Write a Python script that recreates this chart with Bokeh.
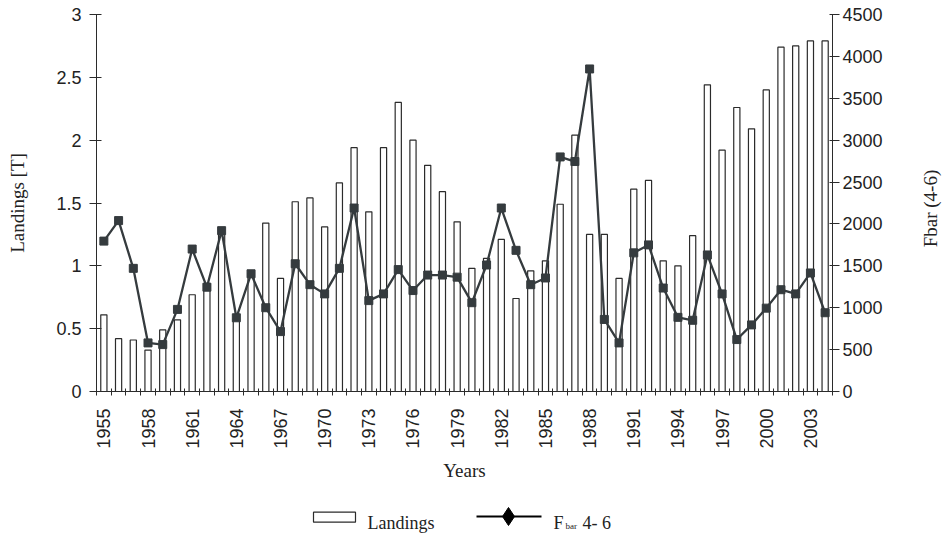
import math
from bokeh.plotting import figure
from bokeh.models import Range1d, LinearAxis, FixedTicker, CustomJSTickFormatter, ColumnDataSource
from bokeh.layouts import column, row
from bokeh.core.properties import value
from bokeh.embed import file_html
from bokeh.resources import INLINE

years = list(range(1955, 2005))
landings = [0.61, 0.42, 0.41, 0.33, 0.49, 0.57, 0.77, 0.86, 1.25, 0.58,
            0.94, 1.34, 0.90, 1.51, 1.54, 1.31, 1.66, 1.94, 1.43, 1.94,
            2.30, 2.00, 1.80, 1.59, 1.35, 0.98, 1.06, 1.21, 0.74, 0.96,
            1.04, 1.49, 2.04, 1.25, 1.25, 0.90, 1.61, 1.68, 1.04, 1.00,
            1.24, 2.44, 1.92, 2.26, 2.09, 2.40, 2.74, 2.75, 2.79, 2.79]
fbar = [1795, 2040, 1470, 580, 560, 980, 1700, 1245, 1920, 880,
        1405, 1000, 715, 1525, 1275, 1165, 1470, 2190, 1085, 1165,
        1455, 1205, 1390, 1390, 1365, 1060, 1510, 2190, 1685, 1275,
        1355, 2800, 2745, 3850, 860, 580, 1655, 1750, 1235, 885,
        850, 1630, 1165, 620, 795, 995, 1215, 1165, 1415, 940]
left_ticks = [0, 0.5, 1, 1.5, 2, 2.5, 3]
right_ticks = [0, 500, 1000, 1500, 2000, 2500, 3000, 3500, 4000, 4500]
year_labels = list(range(1955, 2005, 3))

src = ColumnDataSource(dict(year=years, landings=landings, fbar=fbar))

INK = "#2b2b2b"
LINEC = "#353b3e"
TXT = "#222222"
fmt = CustomJSTickFormatter(code="return tick.toString();")
serif = value("Liberation Serif")

W = 920           # main plot width; a 25 px strip on the right holds the right title
WR = 25
BL, BR = 96, 88   # frame from x=96 to x=832
TOP, FB = 14, 391 # frame from y=14 to y=391
H1 = 495

p = figure(width=W, height=H1, output_backend="svg", toolbar_location=None,
           x_range=Range1d(1954.5, 2004.5), y_range=Range1d(0, 3),
           min_border_left=BL, min_border_right=BR, min_border_top=TOP,
           min_border_bottom=H1 - FB)
p.outline_line_color = None
p.xgrid.visible = False
p.ygrid.visible = False
p.extra_y_ranges = {"fbar": Range1d(0, 4500)}

p.vbar(x="year", top="landings", width=0.42, source=src,
       fill_color="white", line_color=INK, line_width=1.2)
p.line(x="year", y="fbar", source=src, y_range_name="fbar",
       line_color=LINEC, line_width=2.3)
p.scatter(x="year", y="fbar", source=src, y_range_name="fbar", marker="square",
          size=8, fill_color=LINEC, line_color=LINEC)

# x axis
xa = p.xaxis[0]
xa.ticker = FixedTicker(ticks=year_labels, minor_ticks=[y - 0.5 for y in years] + [2004.5])
xa.formatter = fmt
xa.major_label_orientation = math.pi / 2
xa.major_tick_in = 0
xa.major_tick_out = 0
xa.minor_tick_in = 3
xa.minor_tick_out = 4
xa.major_label_standoff = 13
xa.axis_label = "Years"
xa.axis_label_standoff = 8

# left axis
ya = p.yaxis[0]
ya.ticker = FixedTicker(ticks=left_ticks)
ya.formatter = fmt
ya.major_tick_in = 5
ya.major_tick_out = 7
ya.minor_tick_in = 0
ya.minor_tick_out = 0
ya.major_label_standoff = 8
ya.axis_label = "Landings [T]"
ya.axis_label_standoff = 25

# right axis
ra = LinearAxis(y_range_name="fbar", ticker=FixedTicker(ticks=right_ticks), formatter=fmt)
ra.major_tick_in = 3
ra.major_tick_out = 7
ra.minor_tick_in = 0
ra.minor_tick_out = 0
ra.major_label_standoff = 3
p.add_layout(ra, "right")

for ax in [xa, ya, ra]:
    ax.axis_line_color = INK
    ax.major_tick_line_color = INK
    ax.minor_tick_line_color = INK
    ax.major_label_text_font = "Liberation Sans"
    ax.major_label_text_font_size = "18px"
    ax.major_label_text_color = TXT
    ax.axis_label_text_font = "Liberation Serif"
    ax.axis_label_text_font_size = "19px"
    ax.axis_label_text_font_style = "normal"
    ax.axis_label_text_color = TXT

# right title strip (data y = page pixels above the frame bottom)
rt = figure(width=WR, height=H1, output_backend="svg", toolbar_location=None,
            x_range=Range1d(0, WR), y_range=Range1d(0, FB - TOP),
            x_axis_type=None, y_axis_type=None,
            min_border_left=0, min_border_right=0, min_border_top=TOP,
            min_border_bottom=H1 - FB)
rt.outline_line_color = None
rt.xgrid.visible = False
rt.ygrid.visible = False
rt.text(x=[10], y=[FB - 208], text=["Fbar (4-6)"], angle=math.pi / 2,
        text_align="center", text_baseline="middle",
        text_font=serif, text_font_size="19px", text_color=TXT)

# legend strip (x in page pixels; frame aligned with main plot frame)
SH = 40
lg = figure(width=W, height=SH, output_backend="svg", toolbar_location=None,
            x_range=Range1d(BL, W - BR), y_range=Range1d(0, SH),
            x_axis_type=None, y_axis_type=None,
            min_border_left=BL, min_border_right=BR, min_border_top=0, min_border_bottom=0)
lg.outline_line_color = None
lg.xgrid.visible = False
lg.ygrid.visible = False
base = H1 + SH  # page y of strip bottom
lg.rect(x=[334], y=[base - 516.7], width=[42], height=[10], fill_color="white",
        line_color=INK, line_width=1.2)
lg.text(x=[367], y=[base - 522.7], text=["Landings"], text_font=serif, text_font_size="18px",
        text_baseline="alphabetic", text_color=TXT)
lg.line(x=[476, 541], y=[base - 516, base - 516], line_color="black", line_width=2)
lg.scatter(x=[508], y=[base - 516], marker="diamond", size=18, fill_color="black", line_color="black")
lg.text(x=[553], y=[base - 522.7], text=["F"], text_font=serif, text_font_size="18px",
        text_baseline="alphabetic", text_color=TXT)
lg.text(x=[565], y=[base - 525], text=["bar"], text_font=serif, text_font_size="9px",
        text_baseline="alphabetic", text_color=TXT)
lg.text(x=[582], y=[base - 522.7], text=["4- 6"], text_font=serif, text_font_size="18px",
        text_baseline="alphabetic", text_color=TXT)

layout = row(column(p, lg), rt)
open("out.html", "w").write(file_html(layout, INLINE))
